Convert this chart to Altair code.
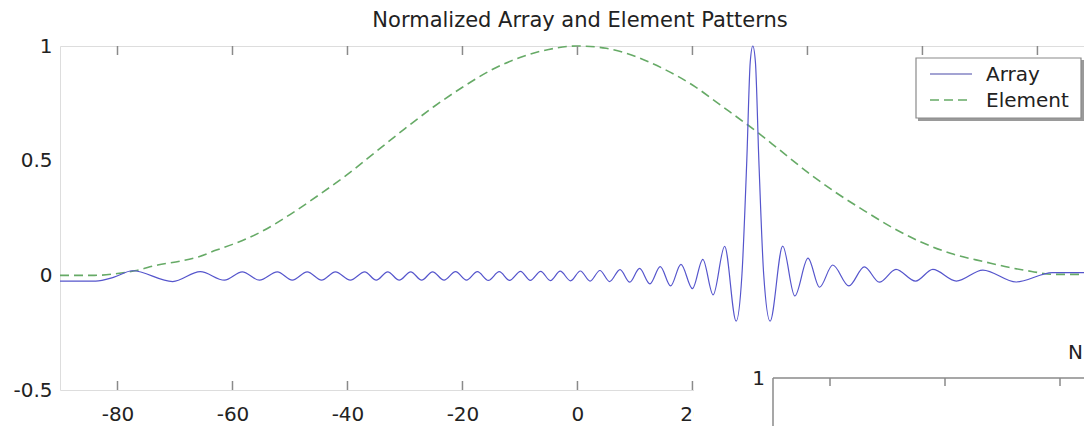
import altair as alt
import pandas as pd

# ---------------- data ----------------
title_text = "Normalized Array and Element Patterns"
series_names = ["Array", "Element"]
x_ticks = [-80, -60, -40, -20, 0, 20, 40, 60, 80]
y_ticks = [-0.5, 0, 0.5, 1]

array_angles = [
    -90.0, -83.8, -80.6, -77.4, -70.4, -65.6, -61.4, -58.3, -55.3, -52.2,
    -49.6, -47.0, -44.5, -42.1, -39.5, -37.0, -35.0, -33.0, -31.0, -29.0,
    -27.1, -25.2, -23.2, -21.2, -19.3, -17.4, -15.5, -13.6, -11.8, -9.9,
    -8.2, -6.4, -4.7, -3.0, -1.2, 0.5, 2.2, 3.9, 5.6, 7.4,
    9.1, 10.8, 12.6, 14.4, 16.2, 18.0, 20.0, 21.8, 23.6, 25.6,
    27.6, 28.6, 29.45, 30.05, 30.5, 30.95, 31.55, 32.4, 33.5, 35.7,
    37.8, 40.1, 42.1, 44.4, 47.2, 49.9, 52.5, 55.4, 58.8, 61.8,
    65.9, 70.5, 76.3, 82.6, 88.1,
]
array_values = [
    -0.025, -0.025, -0.008, 0.020, -0.027, 0.016, -0.021, 0.015, -0.021, 0.015,
    -0.021, 0.015, -0.021, 0.015, -0.021, 0.015, -0.021, 0.015, -0.021, 0.015,
    -0.021, 0.015, -0.021, 0.016, -0.021, 0.016, -0.022, 0.016, -0.022, 0.017,
    -0.022, 0.017, -0.023, 0.018, -0.024, 0.019, -0.025, 0.021, -0.027, 0.025,
    -0.030, 0.030, -0.037, 0.038, -0.046, 0.048, -0.058, 0.070, -0.085, 0.126,
    -0.200, 0.000, 0.500, 0.930, 1.000, 0.930, 0.500, 0.000, -0.200, 0.127,
    -0.090, 0.075, -0.052, 0.045, -0.046, 0.037, -0.030, 0.026, -0.025, 0.026,
    -0.025, 0.023, -0.029, 0.012, 0.012,
]

element_angles = [
    -90, -84, -80, -77, -73, -69, -66, -62.8, -60, -55,
    -50, -45, -40, -35, -30, -25, -20, -15, -10, -5,
    0, 5, 10, 15, 20, 25, 31.5, 35, 40, 45,
    50, 55, 59.5, 65, 71, 75, 79, 83, 88.1,
]
element_values = [
    0.0, 0.0, 0.008, 0.020, 0.045, 0.062, 0.080, 0.110, 0.135, 0.190,
    0.265, 0.350, 0.440, 0.540, 0.640, 0.735, 0.820, 0.895, 0.950, 0.985,
    1.000, 0.990, 0.955, 0.900, 0.830, 0.740, 0.620, 0.550, 0.450, 0.360,
    0.280, 0.205, 0.148, 0.095, 0.058, 0.035, 0.017, 0.004, 0.004,
]

# ---------------- styling ----------------
FONT = "DejaVu Sans"
AXIS_GRAY = "#8a8a8a"
TEXT = "#222222"
ARRAY_COLOR = "#5555cc"
ELEMENT_COLOR = "#66aa66"
W, H = 1024, 344          # svg = 52 + 1024 = 1076 wide -> no rescaling by the page

xs = alt.Scale(domain=[-90, 88.1], nice=False, zero=False)
ys = alt.Scale(domain=[-0.5, 1], nice=False, zero=False)

df_array = pd.DataFrame({"angle": array_angles, "value": array_values})
df_elem = pd.DataFrame({"angle": element_angles, "value": element_values})
one = pd.DataFrame({"k": [0]})

x_axis = alt.Axis(values=x_ticks, ticks=False, domain=False, grid=False,
                  labelFont=FONT, labelFontSize=20, labelColor=TEXT,
                  labelPadding=14, labelFlush=False, labelExpr="'' + datum.value")
y_axis = alt.Axis(values=y_ticks, ticks=False, domain=False, grid=False,
                  labelFont=FONT, labelFontSize=20, labelColor=TEXT,
                  labelPadding=8, labelFlush=False, labelExpr="'' + datum.value")

element_line = alt.Chart(df_elem).mark_line(
    color=ELEMENT_COLOR, strokeWidth=1.6, strokeDash=[9, 5], interpolate="monotone"
).encode(
    x=alt.X("angle:Q", scale=xs, axis=x_axis, title=None),
    y=alt.Y("value:Q", scale=ys, axis=y_axis, title=None),
)

array_line = alt.Chart(df_array).mark_line(
    color=ARRAY_COLOR, strokeWidth=1.2, interpolate="monotone"
).encode(
    x=alt.X("angle:Q", scale=xs, title=None),
    y=alt.Y("value:Q", scale=ys, title=None),
)

# inward ticks (MATLAB style) on top and bottom edges
xt = pd.DataFrame({"angle": x_ticks})
top_ticks = alt.Chart(xt).mark_rule(color=AXIS_GRAY, strokeWidth=1.5).encode(
    x=alt.X("angle:Q", scale=xs, title=None), y=alt.value(0), y2=alt.value(9))
bottom_ticks = alt.Chart(xt).mark_rule(color=AXIS_GRAY, strokeWidth=1.5).encode(
    x=alt.X("angle:Q", scale=xs, title=None), y=alt.value(H - 9), y2=alt.value(H))

# chart title as a text mark above the plot
title_mark = alt.Chart(one).mark_text(
    text=title_text, font=FONT, fontSize=21, color=TEXT, align="center", baseline="alphabetic"
).encode(x=alt.value(520), y=alt.value(-19))

# the second (overlapping) figure in the lower right corner
cover = alt.Chart(one).mark_rect(color="white").encode(
    x=alt.value(634), x2=alt.value(1030), y=alt.value(287), y2=alt.value(390))
ov_h = alt.Chart(one).mark_rule(color=AXIS_GRAY, strokeWidth=1.5).encode(
    x=alt.value(713), x2=alt.value(1030), y=alt.value(332))
ov_v = alt.Chart(one).mark_rule(color=AXIS_GRAY, strokeWidth=1.5).encode(
    x=alt.value(713), y=alt.value(332), y2=alt.value(390))
ov_ticks = [
    alt.Chart(one).mark_rule(color=AXIS_GRAY, strokeWidth=1.5).encode(
        x=alt.value(px), y=alt.value(332), y2=alt.value(340))
    for px in (770, 885, 1000)
]
ov_one = alt.Chart(one).mark_text(
    text="1", font=FONT, fontSize=20, color=TEXT, align="right", baseline="middle"
).encode(x=alt.value(705), y=alt.value(333))
ov_n = alt.Chart(one).mark_text(
    text="N", font=FONT, fontSize=20, color=TEXT, align="left", baseline="middle"
).encode(x=alt.value(1008), y=alt.value(307))

# legend box
leg_shadow = alt.Chart(one).mark_rect(color="#9a9a9a").encode(
    x=alt.value(858), x2=alt.value(1024), y=alt.value(14), y2=alt.value(75))
leg_box = alt.Chart(one).mark_rect(color="white", stroke=AXIS_GRAY, strokeWidth=1.2).encode(
    x=alt.value(856), x2=alt.value(1021), y=alt.value(12), y2=alt.value(72))
leg_array_line = alt.Chart(one).mark_rule(color="#8585c4", strokeWidth=1.4).encode(
    x=alt.value(870), x2=alt.value(912), y=alt.value(28))
leg_elem_line = alt.Chart(one).mark_rule(color=ELEMENT_COLOR, strokeWidth=1.6, strokeDash=[9, 5]).encode(
    x=alt.value(870), x2=alt.value(912), y=alt.value(54))
leg_array_text = alt.Chart(one).mark_text(
    text=series_names[0], font=FONT, fontSize=20, color=TEXT, align="left", baseline="middle"
).encode(x=alt.value(926), y=alt.value(29))
leg_elem_text = alt.Chart(one).mark_text(
    text=series_names[1], font=FONT, fontSize=20, color=TEXT, align="left", baseline="middle"
).encode(x=alt.value(926), y=alt.value(55))

chart = alt.layer(
    element_line, array_line, top_ticks, bottom_ticks, title_mark,
    cover, ov_h, ov_v, *ov_ticks, ov_one, ov_n,
    leg_shadow, leg_box, leg_array_line, leg_elem_line, leg_array_text, leg_elem_text,
).properties(
    width=W, height=H,
    autosize=alt.AutoSizeParams(type="none"),
    padding={"left": 52, "top": 38, "right": 0, "bottom": 36},
).configure_view(
    stroke=AXIS_GRAY, strokeWidth=1.5
).configure(background="white")

chart.save("out.html", embed_options={"renderer": "svg", "actions": False})
